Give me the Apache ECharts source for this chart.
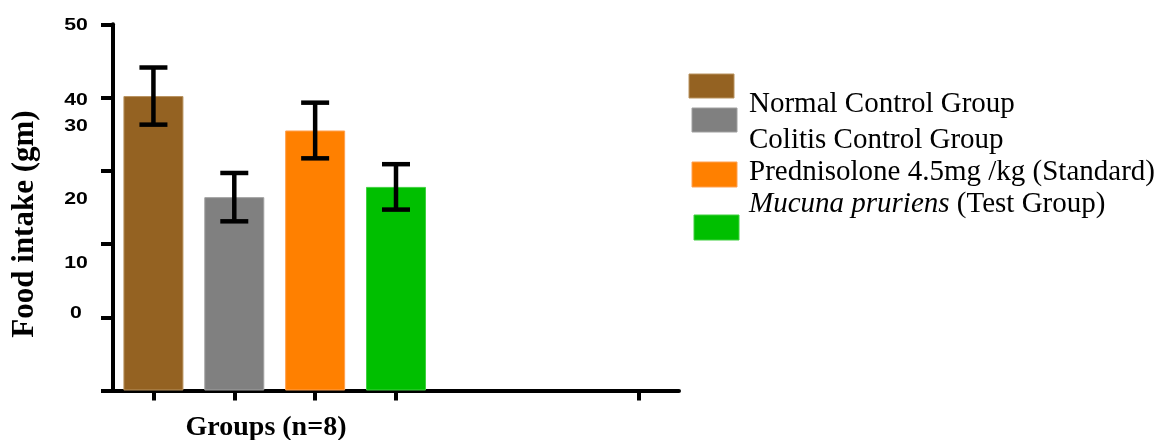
<!DOCTYPE html>
<html>
<head>
<meta charset="utf-8">
<script src="https://cdn.jsdelivr.net/npm/echarts@6/dist/echarts.min.js"></script>
<style>
  html, body { margin: 0; padding: 0; background: #ffffff; }
  #chart { width: 1161px; height: 440px; }
</style>
</head>
<body>
<div id="chart"></div>
<script>
// Food intake per treatment group (gm), mean and error
const groups = [
  'Normal Control Group',
  'Colitis Control Group',
  'Prednisolone 4.5mg /kg (Standard)',
  'Mucuna pruriens (Test Group)'
];
const meanIntake = [40.2, 26.4, 35.5, 27.8];
const errIntake = [3.9, 3.3, 3.8, 3.1];
const groupColors = ['#946222', '#808080', '#ff8000', '#00bf00'];
const groupEdges = ['#b8925e', '#a0a0a0', '#ffa050', '#40d040'];

// x axis has seven slots; only the first four carry bars
const xSlots = ['G1', 'G2', 'G3', 'G4', 'G5', 'G6', 'G7'];
const tickedSlots = [0, 1, 2, 3, 6];

// y axis ticks and the text printed beside them
const yTickValues = [0, 10, 20, 30, 40, 50];
const yTickLabels = ['0', '10', '20', '30', '40', '50'];

const xTitle = 'Groups (n=8)';
const yTitle = 'Food intake (gm)';

// where each y label sits relative to its own tick (px)
const yLabelShift = [-77, -54, -45, -44, 3, 1.5];

const serif = '"Liberation Serif", "Times New Roman", serif';
const sans = '"Liberation Sans", Arial, sans-serif';

const chart = echarts.init(document.getElementById('chart'), null, { renderer: 'canvas' });

const barData = meanIntake.map((v, i) => ({
  value: v,
  itemStyle: { color: groupColors[i], borderColor: groupEdges[i], borderWidth: 1 }
}));

const errData = meanIntake.map((v, i) => [i, v - errIntake[i], v + errIntake[i]]);

chart.setOption({
  animation: false,
  backgroundColor: '#ffffff',
  grid: { left: 113, right: 482, top: 24.3, bottom: 49.5, containLabel: false },
  xAxis: {
    type: 'category',
    data: xSlots,
    axisLine: { show: true, lineStyle: { color: '#000', width: 4 } },
    axisTick: {
      show: true,
      alignWithLabel: true,
      length: 10,
      lineStyle: { color: '#000', width: 4 },
      interval: (idx) => tickedSlots.indexOf(idx) >= 0
    },
    axisLabel: { show: false },
    splitLine: { show: false }
  },
  yAxis: {
    type: 'value',
    min: 0,
    max: 50,
    interval: 10,
    axisLine: { show: true, lineStyle: { color: '#000', width: 4 } },
    axisTick: { show: true, length: 12, lineStyle: { color: '#000', width: 4 } },
    axisLabel: { show: false },
    splitLine: { show: false }
  },
  series: [
    {
      type: 'bar',
      data: barData,
      barWidth: 60
    },
    {
      type: 'custom',
      data: errData,
      z: 10,
      renderItem: (params, api) => {
        const x = api.value(0);
        const lo = api.coord([x, api.value(1)]);
        const hi = api.coord([x, api.value(2)]);
        const half = 14;
        const st = { stroke: '#000', lineWidth: 4.5 };
        return {
          type: 'group',
          children: [
            { type: 'line', shape: { x1: lo[0], y1: lo[1], x2: hi[0], y2: hi[1] }, style: st },
            { type: 'line', shape: { x1: hi[0] - half, y1: hi[1], x2: hi[0] + half, y2: hi[1] }, style: st },
            { type: 'line', shape: { x1: lo[0] - half, y1: lo[1], x2: lo[0] + half, y2: lo[1] }, style: st }
          ]
        };
      }
    }
  ]
});

// y tick labels, placed from the axis scale (digits drawn wide)
const tickTexts = yTickValues.map((v, i) => {
  const py = chart.convertToPixel({ yAxisIndex: 0 }, v);
  return {
    type: 'text',
    x: 76,
    y: py + yLabelShift[i],
    scaleX: 1.25,
    style: {
      text: yTickLabels[i],
      fontSize: 17,
      fontWeight: 'bold',
      fontFamily: sans,
      fill: '#000',
      align: 'center',
      verticalAlign: 'middle'
    }
  };
});

// legend swatches and names
const swatches = [
  [689, 74, 45, 24],
  [692, 108, 45, 24],
  [692, 162, 45, 25],
  [694, 215, 45, 25]
];
const legendRowY = [104, 140, 172, 204];

const legendItems = [];
groups.forEach((g, i) => {
  const s = swatches[i];
  legendItems.push({
    type: 'rect',
    shape: { x: s[0], y: s[1], width: s[2], height: s[3] },
    style: { fill: groupColors[i], stroke: groupEdges[i], lineWidth: 1 }
  });
  const italicPart = 'Mucuna pruriens';
  const txt = g.indexOf(italicPart) === 0
    ? '{it|' + italicPart + '}' + g.slice(italicPart.length)
    : g;
  legendItems.push({
    type: 'text',
    x: 749,
    y: legendRowY[i],
    style: {
      text: txt,
      font: '29px ' + serif,
      fill: '#000',
      align: 'left',
      verticalAlign: 'middle',
      rich: { it: { font: 'italic 29px ' + serif, fill: '#000' } }
    }
  });
});

const titles = [
  {
    type: 'text',
    x: 266,
    y: 428,
    style: { text: xTitle, font: 'bold 28px ' + serif, fill: '#000', align: 'center', verticalAlign: 'middle' }
  },
  {
    type: 'text',
    x: 25,
    y: 224,
    rotation: Math.PI / 2,
    style: { text: yTitle, font: 'bold 31px ' + serif, fill: '#000', align: 'center', verticalAlign: 'middle' }
  }
];

chart.setOption({ graphic: tickTexts.concat(legendItems, titles) });
</script>
</body>
</html>
